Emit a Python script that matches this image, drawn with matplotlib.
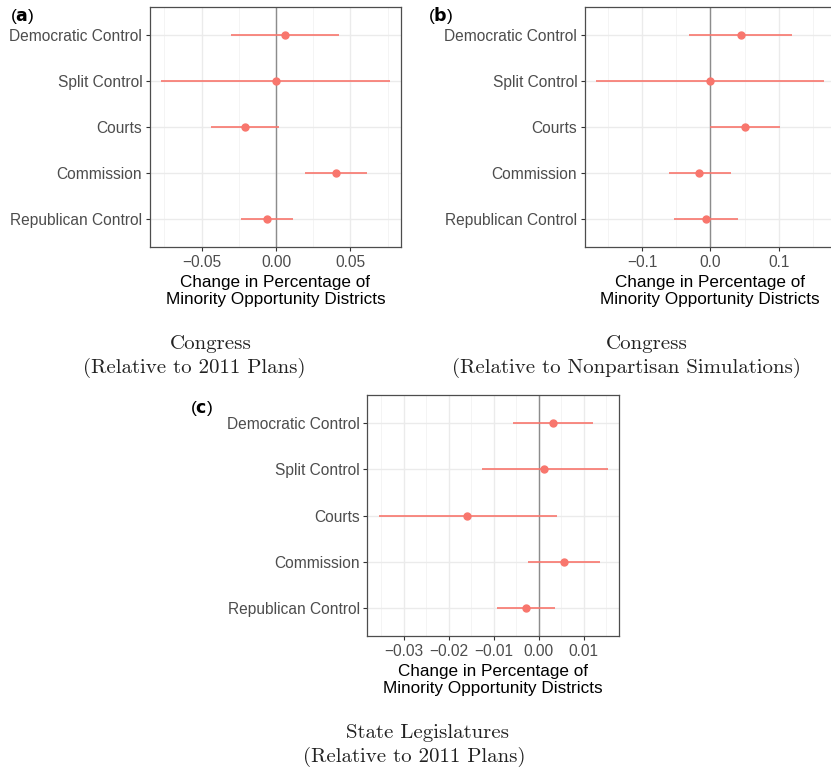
import numpy as np
import matplotlib
matplotlib.use("Agg")
import matplotlib.pyplot as plt
from matplotlib.ticker import MultipleLocator, FuncFormatter

plt.rcParams['font.family'] = ['Liberation Sans', 'DejaVu Sans']

# categories, top to bottom
groups = ["Democratic Control", "Split Control", "Courts", "Commission", "Republican Control"]

# (a) congress vs 2011 plans
a_est = [0.0058, 0.0, -0.0211, 0.0403, -0.0063]
a_lo = [-0.0300, -0.0770, -0.0439, 0.0192, -0.0235]
a_hi = [0.0420, 0.0763, 0.0022, 0.0610, 0.0111]

# (b) congress vs nonpartisan simulations
b_est = [0.0441, 0.0, 0.0514, -0.0160, -0.0067]
b_lo = [-0.0310, -0.1670, 0.0, -0.0610, -0.0528]
b_hi = [0.1198, 0.1667, 0.1017, 0.0296, 0.0398]

# (c) state legislatures vs 2011 plans
c_est = [0.0031, 0.0013, -0.0158, 0.0056, -0.0028]
c_lo = [-0.0057, -0.0126, -0.0355, -0.0024, -0.0092]
c_hi = [0.0120, 0.0153, 0.0041, 0.0136, 0.0036]

W, H = 831, 770
red = "#F8766D"
xtitle = "Change in Percentage of\nMinority Opportunity Districts"

fig = plt.figure(figsize=(W / 100, H / 100), dpi=100)


def px_box(left, top, right, bottom):
    return [left / W, 1 - bottom / H, (right - left) / W, (bottom - top) / H]


def minus_fmt(decimals):
    return FuncFormatter(lambda v, pos: ("%.*f" % (decimals, v)).replace("-", "\u2212"))


def coef_panel(box, est, lo, hi, major, decimals):
    ax = fig.add_axes(box)
    ypos = np.arange(len(groups))[::-1] + 1
    # ggplot-style 5% padding on x
    span = max(hi) - min(lo)
    ax.set_xlim(min(lo) - 0.05 * span, max(hi) + 0.05 * span)
    ax.set_ylim(0.4, len(groups) + 0.6)

    ax.xaxis.set_major_locator(MultipleLocator(major))
    ax.xaxis.set_minor_locator(MultipleLocator(major / 2))
    ax.xaxis.set_major_formatter(minus_fmt(decimals))
    ax.set_yticks(ypos)
    ax.set_yticklabels(groups)

    ax.grid(which="major", color="#EBEBEB", lw=1.0)
    ax.grid(which="minor", axis="x", color="#F2F2F2", lw=0.6)
    ax.set_axisbelow(True)

    ax.axvline(0, color="#8C8C8C", lw=1.0, zorder=1.5)
    ax.hlines(ypos, lo, hi, color=red, lw=1.2, zorder=3)
    ax.plot(est, ypos, "o", color=red, ms=5.0, zorder=4)

    for s in ax.spines.values():
        s.set_color("#4D4D4D")
        s.set_linewidth(0.9)
    ax.tick_params(which="major", length=3, width=0.8, color="#333333",
                   labelcolor="#4D4D4D", labelsize=11.2, pad=2.5)
    ax.tick_params(which="minor", length=0)
    ax.set_xlabel(xtitle, fontsize=12.3, linespacing=1.15, labelpad=4)
    return ax


coef_panel(px_box(150, 7, 401, 247), a_est, a_lo, a_hi, 0.05, 2)
coef_panel(px_box(585, 7, 835.6, 247), b_est, b_lo, b_hi, 0.1, 1)
coef_panel(px_box(367.3, 395, 619, 636), c_est, c_lo, c_hi, 0.01, 2)

# panel letters
for lab, x, y in [("a", 10, 16), ("b", 428, 16), ("c", 190, 409)]:
    fig.text(x / W, 1 - y / H, "($\\mathbf{%s}$)" % lab, fontsize=12.5,
             ha="left", va="center")

# captions under each panel
caps = [
    ("Congress", 211, 344),
    ("(Relative to 2011 Plans)", 194, 368),
    ("Congress", 647, 344),
    ("(Relative to Nonpartisan Simulations)", 626, 368),
    ("State Legislatures", 427, 733),
    ("(Relative to 2011 Plans)", 414, 757),
]
for txt, x, y in caps:
    fig.text(x / W, 1 - y / H, txt, fontsize=15, family="cmr10",
             ha="center", va="center", color="#222222")

fig.savefig("out.png", dpi=100)
